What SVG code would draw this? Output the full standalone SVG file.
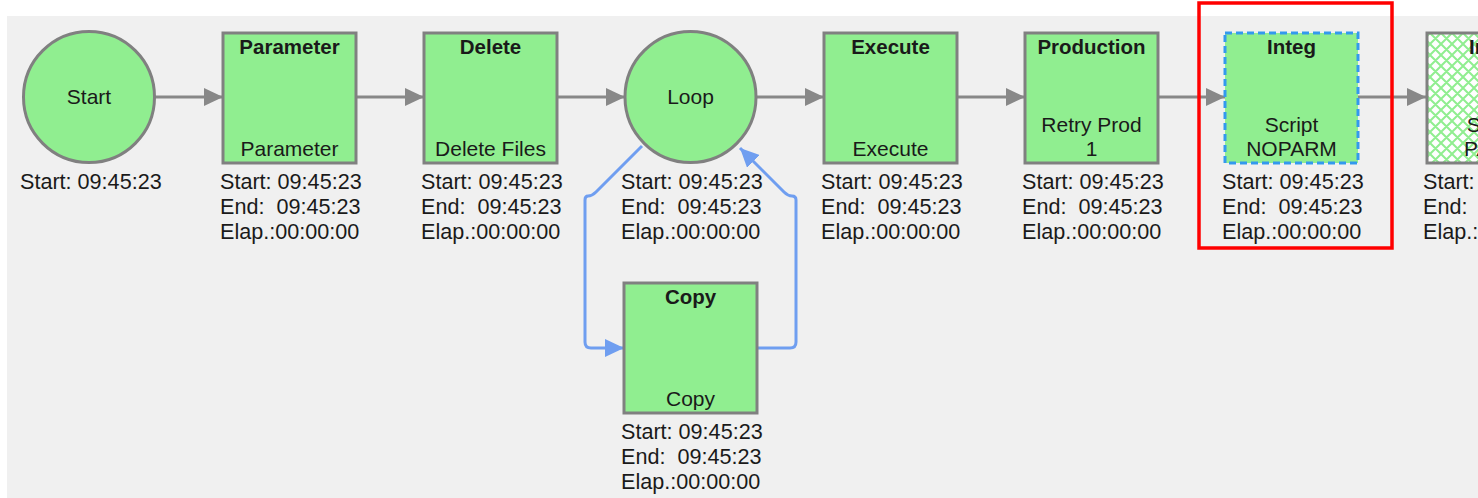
<svg xmlns="http://www.w3.org/2000/svg" width="1478" height="498" viewBox="0 0 1478 498">
<defs>
<style>
.bg{fill:#f0f0f0}
.n{fill:#90ee90;stroke:#808080;stroke-width:3}
.t{font-family:"Liberation Sans",Arial,sans-serif;font-size:21px;fill:#1a1a1a}
.s{font-size:21.6px}
.b{font-weight:bold;text-anchor:middle;font-size:20.5px}
.c{text-anchor:middle}
.e{fill:none;stroke:#888888;stroke-width:3}
.l{fill:none;stroke:#6f9ef0;stroke-width:3;stroke-linejoin:round}
</style>
<marker id="ag" viewBox="0 0 19 18" refX="19" refY="9" markerWidth="19" markerHeight="18" markerUnits="userSpaceOnUse" orient="auto"><path d="M0,0 L19,9 L0,18 Z" fill="#888888"/></marker>
<marker id="ab" viewBox="0 0 19 18" refX="19" refY="9" markerWidth="19" markerHeight="18" markerUnits="userSpaceOnUse" orient="auto"><path d="M0,0 L19,9 L0,18 Z" fill="#6f9ef0"/></marker>
<pattern id="hatch" width="11" height="11" patternUnits="userSpaceOnUse">
<rect width="11" height="11" fill="#ffffff"/>
<path d="M-1,1 L1,-1 M0,11 L11,0 M10,12 L12,10 M-1,10 L1,12 M0,0 L11,11 M10,-1 L12,1" stroke="#90ee90" stroke-width="2"/>
</pattern>
</defs>
<rect class="bg" x="7" y="16" width="1471" height="482"/>
<g id="connectors">
<line class="e" x1="155" y1="97" x2="223" y2="97" marker-end="url(#ag)"/>
<line class="e" x1="356" y1="97" x2="424" y2="97" marker-end="url(#ag)"/>
<line class="e" x1="557" y1="97" x2="625" y2="97" marker-end="url(#ag)"/>
<line class="e" x1="756" y1="97" x2="824" y2="97" marker-end="url(#ag)"/>
<line class="e" x1="957" y1="97" x2="1025" y2="97" marker-end="url(#ag)"/>
<line class="e" x1="1158" y1="97" x2="1225" y2="97" marker-end="url(#ag)"/>
<line class="e" x1="1358" y1="97" x2="1426" y2="97" marker-end="url(#ag)"/>
<path class="l" d="M642,146 L596,192 Q592,196 588,196 Q585,196 585,200 L585,342 Q585,348 591,348 L624,348" marker-end="url(#ab)"/>
<path class="l" d="M757,348 L790,348 Q796,348 796,342 L796,200 Q796,196 792,196 Q788,196 784,192 L740,148" marker-end="url(#ab)"/>
</g>
<g id="node-start">
<circle class="n" cx="89" cy="97" r="65.5"/>
<text class="t c" x="89" y="104">Start</text>
<text class="t s" x="20" y="189">Start: 09:45:23</text>
</g>
<g id="node-parameter">
<rect class="n" x="223" y="33" width="133" height="130"/>
<text class="t b" x="289.5" y="54">Parameter</text>
<text class="t c" x="289.5" y="156">Parameter</text>
<text class="t s" x="220" y="189">Start: 09:45:23</text>
<text class="t s" x="220" y="214" xml:space="preserve">End:  09:45:23</text>
<text class="t s" x="220" y="239">Elap.:00:00:00</text>
</g>
<g id="node-delete">
<rect class="n" x="424" y="33" width="133" height="130"/>
<text class="t b" x="490.5" y="54">Delete</text>
<text class="t c" x="490.5" y="156">Delete Files</text>
<text class="t s" x="421" y="189">Start: 09:45:23</text>
<text class="t s" x="421" y="214" xml:space="preserve">End:  09:45:23</text>
<text class="t s" x="421" y="239">Elap.:00:00:00</text>
</g>
<g id="node-loop">
<circle class="n" cx="690.5" cy="97" r="65.5"/>
<text class="t c" x="690.5" y="104">Loop</text>
<text class="t s" x="621" y="189">Start: 09:45:23</text>
<text class="t s" x="621" y="214" xml:space="preserve">End:  09:45:23</text>
<text class="t s" x="621" y="239">Elap.:00:00:00</text>
</g>
<g id="node-copy">
<rect class="n" x="624" y="283" width="133" height="130"/>
<text class="t b" x="690.5" y="304">Copy</text>
<text class="t c" x="690.5" y="406">Copy</text>
<text class="t s" x="621" y="439">Start: 09:45:23</text>
<text class="t s" x="621" y="464" xml:space="preserve">End:  09:45:23</text>
<text class="t s" x="621" y="489">Elap.:00:00:00</text>
</g>
<g id="node-execute">
<rect class="n" x="824" y="33" width="133" height="130"/>
<text class="t b" x="890.5" y="54">Execute</text>
<text class="t c" x="890.5" y="156">Execute</text>
<text class="t s" x="821" y="189">Start: 09:45:23</text>
<text class="t s" x="821" y="214" xml:space="preserve">End:  09:45:23</text>
<text class="t s" x="821" y="239">Elap.:00:00:00</text>
</g>
<g id="node-production">
<rect class="n" x="1025" y="33" width="133" height="130"/>
<text class="t b" x="1091.5" y="54">Production</text>
<text class="t c" x="1091.5" y="132">Retry Prod</text>
<text class="t c" x="1091.5" y="156">1</text>
<text class="t s" x="1022" y="189">Start: 09:45:23</text>
<text class="t s" x="1022" y="214" xml:space="preserve">End:  09:45:23</text>
<text class="t s" x="1022" y="239">Elap.:00:00:00</text>
</g>
<g id="node-integ">
<rect x="1225" y="33" width="133" height="130" fill="#90ee90" stroke="#3399ee" stroke-width="3" stroke-dasharray="7,4"/>
<text class="t b" x="1291.5" y="54">Integ</text>
<text class="t c" x="1291.5" y="132">Script</text>
<text class="t c" x="1291.5" y="156">NOPARM</text>
<text class="t s" x="1222" y="189">Start: 09:45:23</text>
<text class="t s" x="1222" y="214" xml:space="preserve">End:  09:45:23</text>
<text class="t s" x="1222" y="239">Elap.:00:00:00</text>
</g>
<g id="node-integ2">
<rect x="1427" y="33" width="133" height="130" fill="url(#hatch)" stroke="#808080" stroke-width="3"/>
<text class="t b" x="1493.5" y="54">Integ</text>
<text class="t c" x="1493.5" y="132">Script</text>
<text class="t c" x="1493.5" y="156">PARM</text>
<text class="t s" x="1423" y="189">Start: 09:45:23</text>
<text class="t s" x="1423" y="214" xml:space="preserve">End:  09:45:23</text>
<text class="t s" x="1423" y="239">Elap.:00:00:00</text>
</g>
<g id="highlight">
<rect x="1199" y="3" width="193" height="245" fill="none" stroke="#ff0000" stroke-width="3.5"/>
</g>
</svg>
